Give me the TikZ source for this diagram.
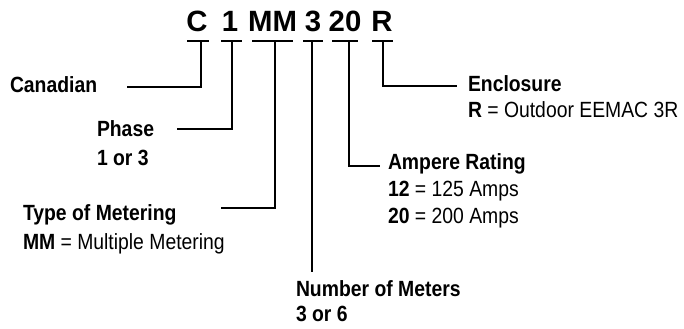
\documentclass[tikz,border=0pt]{standalone}
\usepackage{fontspec}
\setmainfont{Liberation Sans}
\newfontfamily\narrowfont{Liberation Sans}[FakeStretch=0.88]
\begin{document}
\begin{tikzpicture}[x=0.75pt,y=-0.75pt,line width=1.5pt,
  code/.style={font=\fontsize{22}{26}\selectfont\bfseries,inner sep=0pt,anchor=base},
  ttl/.style={font=\narrowfont\fontsize{16.5}{20}\selectfont\bfseries,inner sep=0pt,anchor=base west},
  dsc/.style={font=\narrowfont\fontsize{16.5}{20}\selectfont,inner sep=0pt,anchor=base west},
  bar/.style={line width=1.5pt}]
\useasboundingbox (0,0) rectangle (684,328);
% code letters
\node[code] (c) at (197,32) {C};
\node[code] (one) at (230,32) {1};
\node[code] (mm) at (272.5,32) {MM};
\node[code] (three) at (313,32) {3};
\node[code] (twenty) at (345,32) {20};
\node[code] (r) at (382,32) {R};
% bars
\draw[bar] (187,41) -- (209,41);
\draw[bar] (221,41) -- (242,41);
\draw[bar] (252,41) -- (293,41);
\draw[bar] (303,41) -- (323,41);
\draw[bar] (332,41) -- (358,41);
\draw[bar] (372,41) -- (393,41);
% labels
\node[ttl] (canadian) at (9,92) {Canadian};
\node[ttl] (phase) at (96,136) {Phase};
\node[ttl] (phased) at (96,165) {1 or 3};
\node[ttl] (type) at (22,220) {Type of Metering};
\node[dsc] (typed) at (22,249) {\textbf{MM} = Multiple Metering};
\node[ttl] (num) at (295,296) {Number of Meters};
\node[ttl] (numd) at (295,321.5) {3 or 6};
\node[ttl] (amp) at (387,169) {Ampere Rating};
\node[dsc] (ampa) at (387,196.5) {\textbf{12} = 125 Amps};
\node[dsc] (ampb) at (387,223) {\textbf{20} = 200 Amps};
\node[ttl] (enc) at (467,91) {Enclosure};
\node[dsc] (encd) at (467,117) {\textbf{R} = Outdoor EEMAC 3R};
% connector end points
\coordinate (cT) at (201,41);   \coordinate (cE) at (127,87);
\coordinate (oT) at (232,41);   \coordinate (oE) at (177,129);
\coordinate (mT) at (274.5,41); \coordinate (mE) at (221,208);
\coordinate (tT) at (312,41);   \coordinate (tE) at (312,272);
\coordinate (wT) at (348.5,41); \coordinate (wE) at (380,166);
\coordinate (rT) at (383,41);   \coordinate (rE) at (457,86);
% connectors
\draw (cT) |- (cE);
\draw (oT) |- (oE);
\draw (mT) |- (mE);
\draw (tT) -- (tE);
\draw (wT) |- (wE);
\draw (rT) |- (rE);
\end{tikzpicture}
\end{document}
